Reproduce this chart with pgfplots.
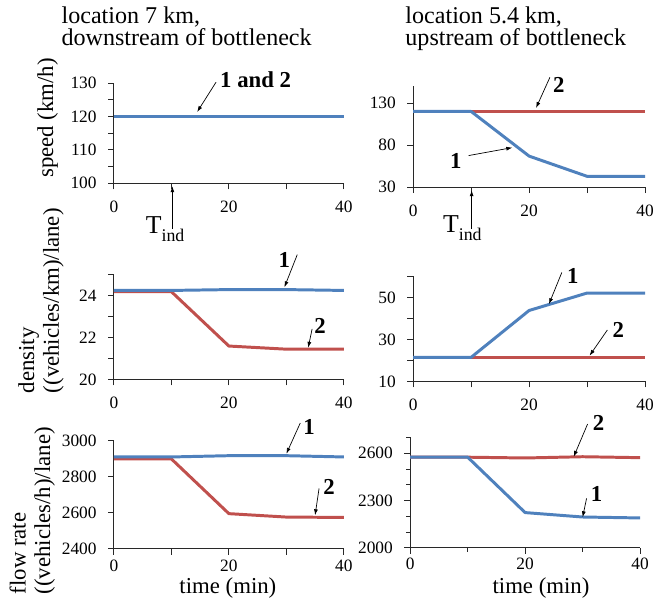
\documentclass[border=0pt]{standalone}
\usepackage{pgfplots}
\pgfplotsset{compat=1.18}
\usepackage{fontspec}
\setmainfont{Liberation Serif}
\usetikzlibrary{arrows.meta}
\definecolor{cblue}{RGB}{79,129,189}
\definecolor{cred}{RGB}{192,80,77}
\definecolor{axgray}{RGB}{40,40,40}
\newcommand{\tk}{\fontsize{17.5}{17.5}\selectfont}
\newcommand{\lb}{\fontsize{23}{23}\selectfont}
\newcommand{\ttl}{\fontsize{24.3}{20.5}\selectfont}
\newcommand{\an}{\fontsize{23}{23}\selectfont\bfseries}
\newcommand{\Tind}{\fontsize{26}{26}\selectfont T\raisebox{-8pt}{\fontsize{18}{18}\selectfont ind}}
\tikzset{ar/.style={-{Latex[length=6pt,width=4pt]}, line width=0.7pt, black}}
\pgfplotsset{
 myax/.style={scale only axis, anchor=south west, axis x line=bottom, axis y line=left,
   axis line style={-, line width=1pt, draw=axgray},
   tick style={line width=1pt, draw=axgray}, tick align=outside,
   major tick length=6pt, minor tick length=6pt,
   xmin=0, xmax=40, xtick={0,20,40}, minor xtick={10,30},
   tick label style={font=\tk}, /pgf/number format/assume math mode=true,
   /pgf/number format/1000 sep={}, clip=false, width=232pt},
 l1/.style={cblue, line width=3pt, line join=round},
 l2/.style={cred, line width=3pt, line join=round},
}
\begin{document}
\begin{tikzpicture}[x=1pt,y=1pt]
\path (0,0) rectangle (657,-610);
% top left: speed, 7 km
\begin{axis}[myax, at={(115pt,-185pt)}, height=101pt, ymin=100, ymax=130,
  ytick={100,110,120,130}, minor ytick={105,115,125},
  xticklabel style={yshift=-8pt}, yticklabel style={xshift=-8pt}]
\addplot[l2] coordinates {(0,120) (10,120) (20,120) (30,120) (40,120)};
\addplot[l1] coordinates {(0,120) (10,120) (20,120) (30,120) (40,120)};
\end{axis}
% top right: speed, 5.4 km
\begin{axis}[myax, at={(417pt,-189pt)}, height=102pt, width=234pt, ymin=30, ymax=150,
  ytick={30,80,130}, minor ytick={},
  xticklabel style={yshift=-8pt}, yticklabel style={xshift=-8pt}]
\addplot[l2] coordinates {(0,120) (10,120) (20,120) (30,120) (40,120)};
\addplot[l1] coordinates {(0,120) (10,120) (20,67) (30,43) (40,43)};
\end{axis}
% middle left: density, 7 km
\begin{axis}[myax, at={(115pt,-383pt)}, height=105.5pt, ymin=20, ymax=25,
  ytick={20,22,24}, minor ytick={21,23,25},
  xticklabel style={yshift=-8pt}, yticklabel style={xshift=-8pt}]
\addplot[l2] coordinates {(0,24.2) (10,24.2) (20,21.6) (30,21.45) (40,21.45)};
\addplot[l1] coordinates {(0,24.26) (10,24.26) (20,24.3) (30,24.3) (40,24.26)};
\end{axis}
% middle right: density, 5.4 km
\begin{axis}[myax, at={(417pt,-385pt)}, height=106pt, width=234pt, ymin=10, ymax=60,
  ytick={10,30,50}, minor ytick={20,40,60},
  xticklabel style={yshift=-8pt}, yticklabel style={xshift=-8pt}]
\addplot[l2] coordinates {(0,21.5) (10,21.5) (20,21.5) (30,21.5) (40,21.5)};
\addplot[l1] coordinates {(0,21.5) (10,21.5) (20,43.8) (30,52.1) (40,52.1)};
\end{axis}
% bottom left: flow, 7 km
\begin{axis}[myax, at={(115pt,-554pt)}, height=109pt, ymin=2400, ymax=3000,
  ytick={2400,2600,2800,3000}, minor ytick={},
  xticklabel style={yshift=-2pt}, yticklabel style={xshift=-8pt}]
\addplot[l2] coordinates {(0,2900) (10,2900) (20,2596) (30,2577) (40,2575)};
\addplot[l1] coordinates {(0,2911) (10,2911) (20,2918) (30,2918) (40,2911)};
\end{axis}
% bottom right: flow, 5.4 km
\begin{axis}[myax, at={(414pt,-553pt)}, height=111.5pt, width=232pt, ymin=2000, ymax=2700,
  ytick={2000,2300,2600}, minor ytick={2100,2200,2400,2500,2700}, minor tick length=4pt,
  xticklabel style={yshift=-1pt}, yticklabel style={xshift=-8pt}]
\addplot[l2] coordinates {(0,2575) (10,2575) (20,2570) (30,2578) (40,2572)};
\addplot[l1] coordinates {(0,2575) (10,2575) (20,2224) (30,2196) (40,2190)};
\end{axis}
% titles
\node[anchor=base west, inner sep=0, font=\ttl, align=left] at (62,-45.5) {location 7 km,\\downstream of bottleneck};
\node[anchor=base west, inner sep=0, font=\ttl, align=left] at (409,-45.5) {location 5.4 km,\\upstream of bottleneck};
% y labels
\node[rotate=90, anchor=center, inner sep=0, font=\lb] at (48,-119) {speed (km/h)};
\node[rotate=90, anchor=west, inner sep=0, font=\lb] at (29,-397) {density};
\node[rotate=90, anchor=west, inner sep=0, font=\lb] at (54,-397) {((vehicles/km)/lane)};
\node[rotate=90, anchor=west, inner sep=0, font=\lb] at (18,-600) {flow rate};
\node[rotate=90, anchor=west, inner sep=0, font=\lb] at (45,-600) {((vehicles/h)/lane)};
% x labels
\node[anchor=center, inner sep=0, font=\lb] at (230,-593) {time (min)};
\node[anchor=center, inner sep=0, font=\lb] at (546,-593) {time (min)};
% T_ind
\node[anchor=base west, inner sep=0] at (147,-236) {\Tind};
\draw[ar] (174,-231) -- (174,-188);
\node[anchor=base west, inner sep=0] at (447,-235) {\Tind};
\draw[ar] (476,-231) -- (476,-192);
% annotations
\node[font=\an, inner sep=0] at (258,-80) {1 and 2};
\draw[ar] (218,-83) -- (199,-113);
\node[font=\an, inner sep=0] at (564,-86) {2};
\draw[ar] (555,-78) -- (541,-109);
\node[font=\an, inner sep=0] at (460,-162) {1};
\draw[ar] (473,-157) -- (517,-149);
\node[font=\an, inner sep=0] at (287,-262) {1};
\draw[ar] (300,-257) -- (287,-290);
\node[font=\an, inner sep=0] at (323,-329) {2};
\draw[ar] (315,-332) -- (311,-351);
\node[font=\an, inner sep=0] at (578,-279) {1};
\draw[ar] (567,-275) -- (554,-307);
\node[font=\an, inner sep=0] at (624,-333) {2};
\draw[ar] (613,-333) -- (595,-359);
\node[font=\an, inner sep=0] at (312,-431) {1};
\draw[ar] (303,-427) -- (289,-458);
\node[font=\an, inner sep=0] at (332,-491) {2};
\draw[ar] (322,-493) -- (318,-520);
\node[font=\an, inner sep=0] at (604,-427) {2};
\draw[ar] (593,-428) -- (579,-461);
\node[font=\an, inner sep=0] at (602,-499) {1};
\draw[ar] (592,-503) -- (588,-522);
\end{tikzpicture}
\end{document}
